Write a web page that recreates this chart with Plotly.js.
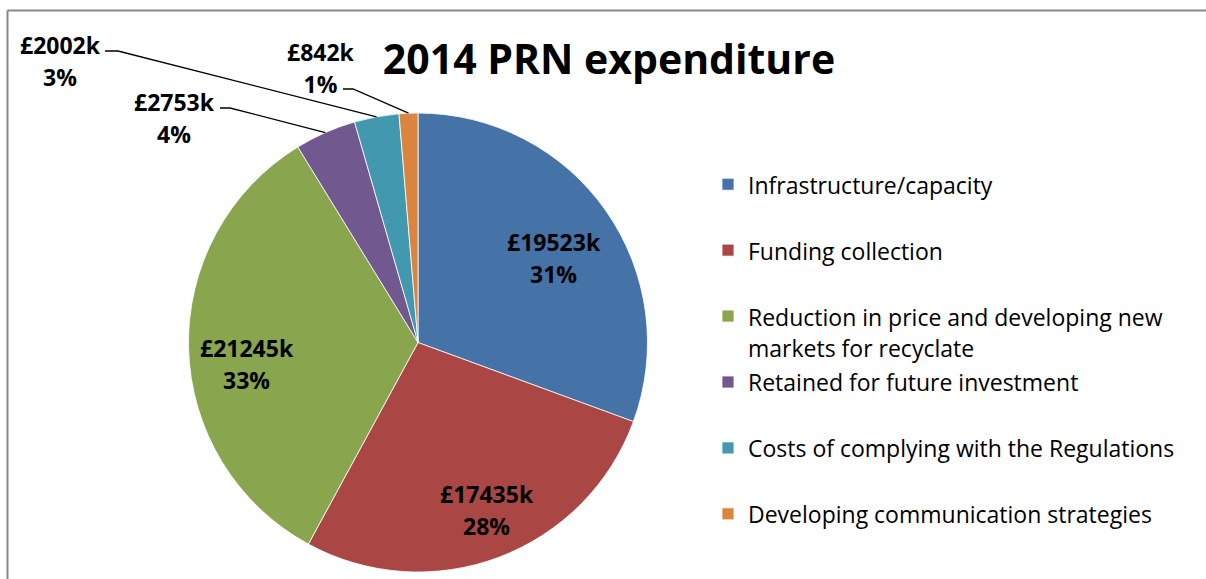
<!DOCTYPE html>
<html>
<head>
<meta charset="utf-8">
<script src="https://cdn.plot.ly/plotly-3.0.1.min.js"></script>
<style>
  html, body { margin: 0; padding: 0; background: #ffffff; }
  #chart { width: 1206px; height: 579px; }
</style>
</head>
<body>
<div id="chart"></div>
<script>
// ---- data ----
const categories = [
  "Infrastructure/capacity",
  "Funding collection",
  "Reduction in price and developing new markets for recyclate",
  "Retained for future investment",
  "Costs of complying with the Regulations",
  "Developing communication strategies"
];
const legendText = [
  "Infrastructure/capacity",
  "Funding collection",
  "Reduction in price and developing new<br>markets for recyclate",
  "Retained for future investment",
  "Costs of complying with the Regulations",
  "Developing communication strategies"
];
const values = [19523, 17435, 21245, 2753, 2002, 842];
const percentLabels = ["31%", "28%", "33%", "4%", "3%", "1%"];
const sliceColors = ["#4572A7", "#AA4643", "#89A54E", "#71588F", "#4198AF", "#DB843D"];
const chartTitle = "2014 PRN expenditure";

// ---- layout constants ----
const W = 1206, H = 579;
const FONT = "'Open Sans', 'Liberation Sans', sans-serif";
const pieCx = 418, pieCy = 342.5, pieR = 229.5;
const px = x => x / W;
const py = y => 1 - y / H;

// label block centres (pixels) and leader-line elbows for the small slices
const labelPos = [[554, 258], [487, 510], [247, 364], [174, 118], [60, 61], [321, 68]];
const leaderStart = { 3: [[220, 108], [230, 108]], 4: [[105, 51], [118, 51]], 5: [[343, 89], [353, 89]] };

const total = values.reduce((a, b) => a + b, 0);

// legend labels: every entry takes two lines, marker aligned with the first line
const span = (s, size) => '<span style="font-size:' + size + 'px">' + s + '</span>';
const legendLabels = categories.map((c, i) => {
  const parts = legendText[i].split("<br>").map(s => span(s, 23));
  if (parts.length === 1) parts.push(" ");
  return parts.join("<br>");
});

const trace = {
  type: "pie",
  labels: legendLabels,
  values: values,
  sort: false,
  direction: "clockwise",
  rotation: 0,
  marker: { colors: sliceColors, line: { color: "#ffffff", width: 0.8 } },
  textinfo: "none",
  hoverinfo: "value+percent",
  domain: {
    x: [px(pieCx - pieR), px(pieCx + pieR)],
    y: [py(pieCy + pieR), py(pieCy - pieR)]
  }
};

const annotations = [];
const shapes = [];
let cum = 0;
values.forEach((v, i) => {
  const mid = (cum + v / 2) / total;
  cum += v;
  const [lx, ly] = labelPos[i];
  annotations.push({
    xref: "paper", yref: "paper", x: px(lx), y: py(ly),
    xanchor: "center", yanchor: "middle", showarrow: false,
    text: span('<b>£' + v + 'k</b>', 23) + '<br>' + span('<b>' + percentLabels[i] + '</b>', 23),
    font: { family: FONT, size: 24.5, color: "#000000" }, align: "center"
  });
  if (!leaderStart[i]) return;
  const th = 2 * Math.PI * mid;
  const ex = pieCx + pieR * Math.sin(th);
  const ey = pieCy - pieR * Math.cos(th);
  const [a, b] = leaderStart[i];
  shapes.push({
    type: "path", xref: "paper", yref: "paper",
    path: "M" + px(a[0]) + "," + py(a[1]) + " L" + px(b[0]) + "," + py(b[1]) + " L" + px(ex) + "," + py(ey),
    line: { color: "#000000", width: 1.3 }
  });
});

// chart area border (top and left edges visible)
shapes.push({ type: "line", xref: "paper", yref: "paper", x0: px(7.5), x1: px(1206), y0: py(10.5), y1: py(10.5), line: { color: "#878787", width: 2 } });
shapes.push({ type: "line", xref: "paper", yref: "paper", x0: px(7.5), x1: px(7.5), y0: py(10.5), y1: py(579), line: { color: "#878787", width: 2 } });

const layout = {
  width: W, height: H,
  margin: { l: 0, r: 0, t: 0, b: 0 },
  paper_bgcolor: "#ffffff",
  plot_bgcolor: "#ffffff",
  title: {
    text: "<b>" + chartTitle + "</b>",
    font: { family: FONT, size: 41, color: "#000000" },
    xref: "paper", yref: "paper", x: px(609), y: py(60),
    xanchor: "center", yanchor: "middle"
  },
  showlegend: true,
  legend: {
    x: px(708), y: py(162), xanchor: "left", yanchor: "top",
    valign: "top",
    font: { family: FONT, size: 24.2, color: "#000000" },
    bgcolor: "rgba(0,0,0,0)", borderwidth: 0, tracegroupgap: 0
  },
  annotations: annotations,
  shapes: shapes
};

Plotly.newPlot("chart", [trace], layout, { displayModeBar: false, staticPlot: true });
</script>
</body>
</html>
